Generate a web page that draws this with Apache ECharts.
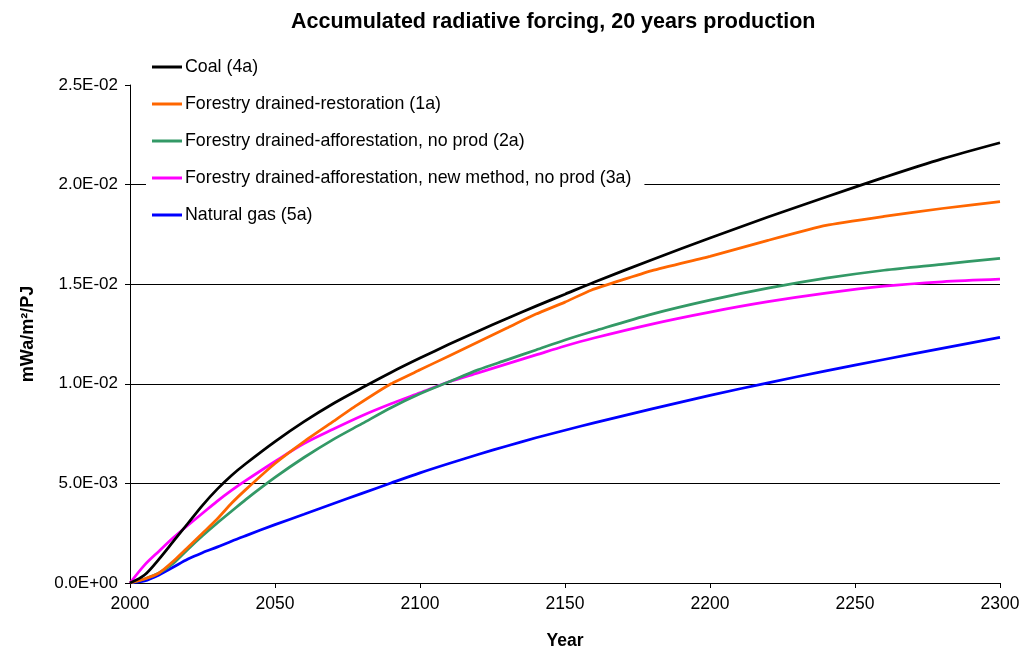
<!DOCTYPE html>
<html>
<head>
<meta charset="utf-8">
<script src="https://cdn.jsdelivr.net/npm/echarts@6/dist/echarts.min.js"></script>
<style>
  html, body { margin: 0; padding: 0; background: #fff; }
  #chart { width: 1025px; height: 655px; }
</style>
</head>
<body>
<div id="chart"></div>
<script>
// Accumulated radiative forcing per scenario (mWa/m2/PJ), by year
const years = [2000, 2005, 2010, 2015, 2020, 2025, 2030, 2035, 2040, 2050, 2060, 2070, 2080, 2090, 2100,
  2110, 2120, 2130, 2140, 2150, 2160, 2180, 2200, 2220, 2240, 2260, 2280, 2300];

const coal = [0, 0.0004, 0.0012, 0.0021, 0.0030, 0.0039, 0.0047, 0.0054, 0.0060, 0.0071, 0.0081, 0.0090, 0.0098, 0.01057, 0.01129,
  0.01198, 0.01264, 0.01328, 0.0139, 0.0145, 0.0151, 0.01623, 0.01732, 0.01837, 0.01938, 0.02036, 0.02129, 0.0221];

const gas = [0, 0.0001, 0.0004, 0.0008, 0.0012, 0.00152, 0.0018, 0.0021, 0.00238, 0.00293, 0.00345, 0.00398, 0.0045, 0.00502, 0.00553,
  0.0060, 0.00645, 0.00688, 0.00729, 0.00767, 0.00804, 0.00874, 0.00942, 0.01005, 0.01065, 0.01122, 0.01178, 0.01233];

const afforestation = [0, 0.0002, 0.0005, 0.0010, 0.0017, 0.00237, 0.0030, 0.0036, 0.0042, 0.0053, 0.0063, 0.0072, 0.0080, 0.0088, 0.0095,
  0.0101, 0.0107, 0.0112, 0.0117, 0.0122, 0.01265, 0.0135, 0.0142, 0.0148, 0.0153, 0.0157, 0.0160, 0.0163];

const newMethod = [0, 0.0009, 0.0016, 0.00228, 0.0029, 0.0035, 0.0041, 0.00465, 0.00515, 0.0061, 0.0070, 0.00772, 0.0084, 0.0090, 0.00955,
  0.0101, 0.01055, 0.0110, 0.01145, 0.0119, 0.0123, 0.0130, 0.0136, 0.01412, 0.01455, 0.0149, 0.01512, 0.01525];

// Restoration scenario has its own breakpoints (2078, 2159, 2240)
const restorationYears = [2000, 2005, 2010, 2015, 2020, 2025, 2030, 2035, 2040, 2050, 2060, 2070, 2078,
  2090, 2100, 2110, 2120, 2130, 2140, 2150, 2159, 2180, 2200, 2220, 2240, 2260, 2280, 2300];
const restoration = [0, 0.0002, 0.0005, 0.0011, 0.0018, 0.0025, 0.0032, 0.0040, 0.0047, 0.0060, 0.0071, 0.0081, 0.0089,
  0.0100, 0.0107, 0.0114, 0.0121, 0.0128, 0.0135, 0.0141, 0.0147, 0.01568, 0.0164, 0.0172, 0.01795, 0.0184, 0.0188, 0.01915];

const seriesNames = [
  'Coal (4a)',
  'Forestry drained-restoration (1a)',
  'Forestry drained-afforestation, no prod (2a)',
  'Forestry drained-afforestation, new method, no prod (3a)',
  'Natural gas (5a)'
];
const seriesColors = ['#000000', '#FF6600', '#339966', '#FF00FF', '#0000FF'];

function pair(xs, ys) { return xs.map((x, i) => [x, ys[i]]); }

// Excel-style scientific tick labels, e.g. 2.5E-02
function sci(v) {
  if (Math.abs(v) < 1e-12) return '0.0E+00';
  const e = Math.floor(Math.log10(Math.abs(v)) + 1e-9);
  const m = v / Math.pow(10, e);
  const sign = e < 0 ? '-' : '+';
  const ee = String(Math.abs(e)).padStart(2, '0');
  return m.toFixed(1) + 'E' + sign + ee;
}

const font = 'Liberation Sans, Arial, sans-serif';

const chart = echarts.init(document.getElementById('chart'));

function line(name, idx, data, smooth) {
  return {
    name: name,
    type: 'line',
    data: data,
    smooth: smooth,
    showSymbol: false,
    symbol: 'none',
    z: 10 - idx,
    lineStyle: { color: seriesColors[idx], width: 2.75 },
    itemStyle: { color: seriesColors[idx] }
  };
}

chart.setOption({
  animation: false,
  backgroundColor: '#fff',
  title: {
    text: 'Accumulated radiative forcing, 20 years production',
    left: 286,
    top: 6,
    textStyle: { fontFamily: font, fontSize: 21.5, fontWeight: 'bold', color: '#000' }
  },
  grid: { left: 130, right: 25, top: 85, bottom: 70, containLabel: false },
  legend: {
    orient: 'vertical',
    left: 146,
    top: 53,
    padding: [4, 13, 6, 6],
    backgroundColor: '#fff',
    itemGap: 17,
    itemWidth: 30,
    itemHeight: 3,
    icon: 'rect',
    data: seriesNames,
    textStyle: { fontFamily: font, fontSize: 17.8, color: '#000', lineHeight: 20, padding: [0, 0, 0, -2] },
    z: 20
  },
  xAxis: {
    type: 'value',
    min: 2000,
    max: 2300,
    interval: 50,
    name: 'Year',
    nameLocation: 'middle',
    nameGap: 49,
    nameTextStyle: { fontFamily: font, fontSize: 17.5, fontWeight: 'bold', color: '#000' },
    axisLine: { show: true, onZero: false, lineStyle: { color: '#000', width: 1 } },
    axisTick: { show: true, inside: false, length: 5, lineStyle: { color: '#000' } },
    axisLabel: {
      fontFamily: font, fontSize: 17.5, color: '#000', margin: 12,
      formatter: function (v) { return String(v); }
    },
    splitLine: { show: false }
  },
  yAxis: {
    type: 'value',
    min: 0,
    max: 0.025,
    interval: 0.005,
    name: 'mWa/m²/PJ',
    nameLocation: 'middle',
    nameRotate: 90,
    nameGap: 93,
    nameTextStyle: { fontFamily: font, fontSize: 18, fontWeight: 'bold', color: '#000' },
    axisLine: { show: true, lineStyle: { color: '#000', width: 1 } },
    axisTick: { show: true, inside: false, length: 5, lineStyle: { color: '#000' } },
    axisLabel: {
      fontFamily: font, fontSize: 17, color: '#000', margin: 12,
      formatter: function (v) { return sci(v); }
    },
    splitLine: { show: true, showMinLine: false, showMaxLine: false, lineStyle: { color: '#000', width: 1 } }
  },
  series: [
    line(seriesNames[0], 0, pair(years, coal), 0.3),
    line(seriesNames[1], 1, pair(restorationYears, restoration), 0.15),
    line(seriesNames[2], 2, pair(years, afforestation), 0.3),
    line(seriesNames[3], 3, pair(years, newMethod), 0.3),
    line(seriesNames[4], 4, pair(years, gas), 0.3)
  ]
});
</script>
</body>
</html>
